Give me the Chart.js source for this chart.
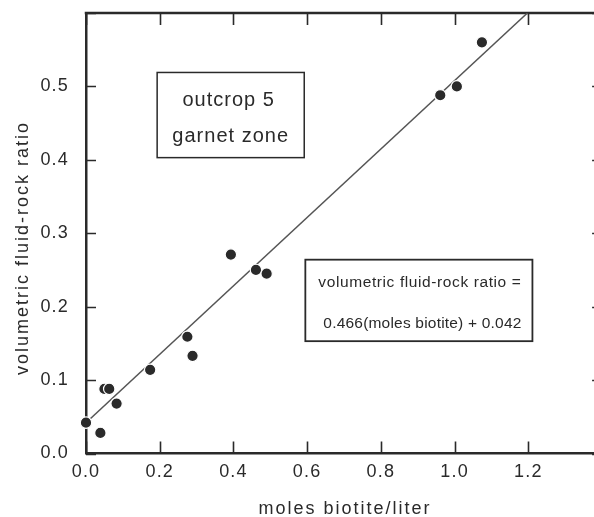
<!DOCTYPE html>
<html>
<head>
<meta charset="utf-8">
<title>Fluid-rock ratio vs biotite</title>
<script src="https://cdn.jsdelivr.net/npm/chart.js@4.4.1/dist/chart.umd.min.js"></script>
<style>
  html, body { margin: 0; padding: 0; background: #fff; overflow: hidden; }
  #wrap { position: relative; width: 609px; height: 517px; }
</style>
</head>
<body>
<div id="wrap"><canvas id="chart" width="609" height="517"></canvas></div>
<script>
// Measured samples: biotite content vs volumetric fluid-rock ratio
const biotite   = [0.000, 0.039, 0.050, 0.063, 0.083, 0.174, 0.275, 0.289, 0.393, 0.461, 0.490, 0.961, 1.006, 1.074];
const fluidRock = [0.042, 0.028, 0.088, 0.088, 0.068, 0.114, 0.159, 0.133, 0.271, 0.250, 0.245, 0.488, 0.500, 0.560];

// Regression stated in the annotation box
const slope = 0.466;
const intercept = 0.042;

// Axis ranges and tick steps; the end values get a tick mark but no label
const xRange = [0, 1.4];
const yRange = [0, 0.6];
const xStep = 0.2;
const yStep = 0.1;

// Text
const xTitle = 'moles biotite/liter';
const yTitle = 'volumetric fluid-rock ratio';
const siteLabel = ['outcrop 5', 'garnet zone'];
const fitLabel = ['volumetric fluid-rock ratio =', '0.466(moles biotite) + 0.042'];

const INK = '#2a2a2a';
const FONT = '"Liberation Sans", Arial, Helvetica, sans-serif';

const points = biotite.map((x, i) => ({ x: x, y: fluidRock[i] }));
// Fit line runs from x = 0 up to where it meets the top of the plot
const xEnd = (yRange[1] - intercept) / slope;
const fitLine = [
  { x: 0, y: intercept },
  { x: xEnd, y: slope * xEnd + intercept }
];

function tickValues(min, max, step) {
  const out = [];
  for (let v = min; v <= max + 1e-9; v += step) out.push(Math.round(v * 100) / 100);
  return out;
}

// Frame on the top and right, plus inward tick marks on all four sides
const framePlugin = {
  id: 'frame',
  beforeDraw(chart) {
    chart.ctx.letterSpacing = '1.2px';
  },
  beforeDatasetsDraw(chart) {
    const { ctx, chartArea: a, scales } = chart;
    ctx.save();
    ctx.strokeStyle = INK;
    ctx.lineWidth = 2.5;
    ctx.beginPath();
    ctx.moveTo(a.left - 1.25, a.top);
    ctx.lineTo(a.right, a.top);
    ctx.lineTo(a.right, a.bottom);
    ctx.stroke();

    ctx.lineWidth = 1.6;
    ctx.beginPath();
    tickValues(xRange[0], xRange[1], xStep).forEach(v => {
      const px = Math.round(scales.x.getPixelForValue(v)) + 0.5;
      ctx.moveTo(px, a.bottom); ctx.lineTo(px, a.bottom - 12);
      ctx.moveTo(px, a.top);    ctx.lineTo(px, a.top + 12);
    });
    tickValues(yRange[0], yRange[1], yStep).forEach(v => {
      const py = Math.round(scales.y.getPixelForValue(v)) + 0.5;
      ctx.moveTo(a.left, py);  ctx.lineTo(a.left + 10, py);
      ctx.moveTo(a.right, py); ctx.lineTo(a.right - 10, py);
    });
    ctx.stroke();
    ctx.restore();
  },
  afterDraw(chart) {
    const { ctx, scales } = chart;
    const X = v => scales.x.getPixelForValue(v);
    const Y = v => scales.y.getPixelForValue(v);
    ctx.save();
    ctx.fillStyle = INK;
    ctx.strokeStyle = INK;

    // axis titles
    ctx.font = '18px ' + FONT;
    ctx.letterSpacing = '2px';
    ctx.textAlign = 'center';
    ctx.textBaseline = 'alphabetic';
    ctx.fillText(xTitle, 345, 514);
    ctx.save();
    ctx.translate(28, 248);
    ctx.rotate(-Math.PI / 2);
    ctx.fillText(yTitle, 0, 0);
    ctx.restore();

    // site label box
    ctx.lineWidth = 1.5;
    const b1 = { l: X(0.193), r: X(0.592), t: Y(0.519), b: Y(0.403) };
    ctx.strokeRect(b1.l, b1.t, b1.r - b1.l, b1.b - b1.t);
    ctx.font = '20px ' + FONT;
    ctx.letterSpacing = '1px';
    const cx1 = (b1.l + b1.r) / 2;
    ctx.fillText(siteLabel[0], cx1 - 2, b1.t + 34);
    ctx.fillText(siteLabel[1], cx1, b1.t + 70);

    // regression box
    const b2 = { l: X(0.595), r: X(1.211), t: Y(0.264), b: Y(0.153) };
    ctx.lineWidth = 1.8;
    ctx.strokeRect(b2.l, b2.t, b2.r - b2.l, b2.b - b2.t);
    ctx.textAlign = 'left';
    ctx.font = '15.5px ' + FONT;
    ctx.letterSpacing = '0.6px';
    ctx.fillText(fitLabel[0], b2.l + 13, b2.t + 27);
    ctx.letterSpacing = '0.2px';
    ctx.fillText(fitLabel[1], b2.l + 18, b2.t + 68);
    ctx.restore();
  }
};

const labelFor = (range) => (v) => {
  const n = Number(v);
  return Math.abs(n - range[1]) < 1e-9 ? '' : n.toFixed(1);
};

new Chart(document.getElementById('chart'), {
  type: 'scatter',
  data: {
    datasets: [
      {
        label: 'samples',
        data: points,
        pointRadius: 5.7,
        pointBackgroundColor: INK,
        pointBorderColor: '#ffffff',
        pointBorderWidth: 1.2,
        clip: false,
        order: 0
      },
      {
        label: 'fit',
        type: 'line',
        data: fitLine,
        showLine: true,
        borderColor: '#555',
        borderWidth: 1.5,
        pointRadius: 0,
        fill: false,
        order: 1
      }
    ]
  },
  options: {
    responsive: false,
    animation: false,
    devicePixelRatio: 1,
    layout: { padding: { top: 13, right: 2, left: 0, bottom: 0 } },
    plugins: { legend: { display: false }, tooltip: { enabled: false } },
    scales: {
      x: {
        type: 'linear',
        min: xRange[0], max: xRange[1],
        afterFit(scale) {
          scale.height = 63.5;
          scale.paddingLeft = 0; scale.paddingRight = 0;
        },
        afterBuildTicks(scale) { scale.ticks = tickValues(xRange[0], xRange[1], xStep).map(v => ({ value: v })); },
        grid: { display: false, drawTicks: false },
        border: { display: true, width: 2.5, color: INK },
        ticks: {
          padding: 8,
          color: INK,
          font: { family: FONT, size: 18 },
          maxRotation: 0,
          autoSkip: false,
          callback: labelFor(xRange)
        }
      },
      y: {
        type: 'linear',
        min: yRange[0], max: yRange[1],
        afterFit(scale) {
          scale.width = 86;
          scale.paddingTop = 0; scale.paddingBottom = 0;
        },
        afterBuildTicks(scale) { scale.ticks = tickValues(yRange[0], yRange[1], yStep).map(v => ({ value: v })); },
        grid: { display: false, drawTicks: false },
        border: { display: true, width: 2.5, color: INK },
        ticks: {
          padding: 17,
          color: INK,
          font: { family: FONT, size: 18 },
          autoSkip: false,
          callback: labelFor(yRange)
        }
      }
    }
  },
  plugins: [framePlugin]
});
</script>
</body>
</html>
